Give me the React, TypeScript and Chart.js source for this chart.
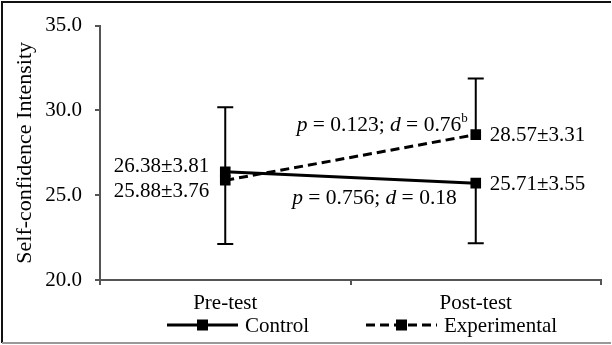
import React, { useEffect, useRef } from "react";
import { Chart, registerables } from "chart.js";

Chart.register(...registerables);

const categories = ["Pre-test", "Post-test"];
const seriesNames = ["Control", "Experimental"];
const controlMeans = [26.38, 25.71];
const controlSD = [3.81, 3.55];
const experimentalMeans = [25.88, 28.57];
const experimentalSD = [3.76, 3.31];
// which side of the mean each error bar is drawn on (1 = up, -1 = down)
const controlErrorSide = [1, -1];
const experimentalErrorSide = [-1, 1];
const yMin = 20;
const yMax = 35;
const yStep = 5;
const yTitle = "Self-confidence Intensity";
// p / d statistics: index 0 = Control, 1 = Experimental
const pValues = ["0.756", "0.123"];
const dValues = ["0.18", "0.76"];
const dSuperscripts = ["", "b"];

const FONT = '"Liberation Serif", "Times New Roman", serif';
const AXIS_COLOR = "#555555";

function font(size: number, style = "normal") {
  return `${style} ${size}px ${FONT}`;
}

const overlayPlugin = {
  id: "overlay",
  beforeDatasetsDraw(chart: any) {
    const ctx = chart.ctx;
    const x = chart.scales.x;
    const y = chart.scales.y;
    ctx.save();
    ctx.strokeStyle = "#000";
    ctx.lineWidth = 2;
    const series = [
      { m: controlMeans, sd: controlSD, side: controlErrorSide },
      { m: experimentalMeans, sd: experimentalSD, side: experimentalErrorSide },
    ];
    series.forEach((s) => {
      s.m.forEach((v, i) => {
        const px = x.getPixelForValue(i);
        const y0 = y.getPixelForValue(v);
        const y1 = y.getPixelForValue(v + s.side[i] * s.sd[i]);
        ctx.beginPath();
        ctx.moveTo(px, y0);
        ctx.lineTo(px, y1);
        ctx.moveTo(px - 8, y1);
        ctx.lineTo(px + 8, y1);
        ctx.stroke();
      });
    });
    ctx.restore();
  },
  afterDraw(chart: any) {
    const ctx = chart.ctx;
    const x = chart.scales.x;
    const y = chart.scales.y;
    ctx.save();
    ctx.fillStyle = "#000";
    ctx.textBaseline = "middle";
    ctx.font = font(21);

    const preX = x.getPixelForValue(0);
    const postX = x.getPixelForValue(1);
    const fmt = (m: number, sd: number) => `${m.toFixed(2)}±${sd.toFixed(2)}`;

    // value labels
    ctx.textAlign = "right";
    ctx.fillText(fmt(controlMeans[0], controlSD[0]), preX - 16, y.getPixelForValue(controlMeans[0]) - 5);
    ctx.fillText(fmt(experimentalMeans[0], experimentalSD[0]), preX - 16, y.getPixelForValue(experimentalMeans[0]) + 11);
    ctx.textAlign = "left";
    ctx.fillText(fmt(experimentalMeans[1], experimentalSD[1]), postX + 14, y.getPixelForValue(experimentalMeans[1]) + 1);
    ctx.fillText(fmt(controlMeans[1], controlSD[1]), postX + 14, y.getPixelForValue(controlMeans[1]) + 1.5);

    // p / d annotations (rich text, right aligned)
    const fs = 21.5;
    const drawRich = (i: number, rightX: number, cy: number) => {
      const segs: { t: string; f: string; dy: number }[] = [
        { t: "p", f: font(fs, "italic"), dy: 0 },
        { t: ` = ${pValues[i]}; `, f: font(fs), dy: 0 },
        { t: "d", f: font(fs, "italic"), dy: 0 },
        { t: ` = ${dValues[i]}`, f: font(fs), dy: 0 },
      ];
      if (dSuperscripts[i]) segs.push({ t: dSuperscripts[i], f: font(13), dy: -7 });
      let total = 0;
      segs.forEach((s) => {
        ctx.font = s.f;
        total += ctx.measureText(s.t).width;
      });
      let cx = rightX - total;
      ctx.textAlign = "left";
      segs.forEach((s) => {
        ctx.font = s.f;
        ctx.fillText(s.t, cx, cy + s.dy);
        cx += ctx.measureText(s.t).width;
      });
    };
    drawRich(1, postX - 8, y.getPixelForValue(experimentalMeans[1]) - 9);
    drawRich(0, postX - 19, y.getPixelForValue(controlMeans[1]) + 15);

    // legend
    const ly = 325;
    const drawLegend = (x0: number, x1: number, dash: number[], label: string) => {
      ctx.save();
      ctx.strokeStyle = "#000";
      ctx.lineWidth = 3;
      ctx.setLineDash(dash);
      ctx.beginPath();
      ctx.moveTo(x0, ly);
      ctx.lineTo(x1, ly);
      ctx.stroke();
      ctx.restore();
      const mx = (x0 + x1) / 2;
      ctx.fillRect(mx - 5.5, ly - 5.5, 11, 11);
      ctx.font = font(21);
      ctx.textAlign = "left";
      ctx.fillText(label, x1 + 7, ly + 1);
    };
    drawLegend(167, 238, [], seriesNames[0]);
    drawLegend(366, 437, [9, 5], seriesNames[1]);

    // outer frame
    ctx.strokeStyle = "#111";
    ctx.lineWidth = 2;
    ctx.beginPath();
    ctx.moveTo(2, 343);
    ctx.lineTo(2, 2);
    ctx.lineTo(611, 2);
    ctx.stroke();
    ctx.strokeStyle = "#999";
    ctx.beginPath();
    ctx.moveTo(2, 343);
    ctx.lineTo(611, 343);
    ctx.stroke();
    ctx.restore();
  },
};

export default function App() {
  const ref = useRef<HTMLCanvasElement>(null);
  useEffect(() => {
    if (!ref.current) return;
    const chart = new Chart(ref.current, {
      type: "line",
      data: {
        labels: categories,
        datasets: [
          {
            label: seriesNames[0],
            data: controlMeans,
            borderColor: "#000",
            backgroundColor: "#000",
            borderWidth: 3,
            pointStyle: "rect",
            pointRadius: 7.5,
            pointBorderWidth: 0,
          },
          {
            label: seriesNames[1],
            data: experimentalMeans,
            borderColor: "#000",
            backgroundColor: "#000",
            borderWidth: 3,
            borderDash: [9, 5],
            pointStyle: "rect",
            pointRadius: 7.5,
            pointBorderWidth: 0,
          },
        ],
      },
      options: {
        responsive: false,
        animation: false,
        devicePixelRatio: 1,
        layout: { padding: { left: 0, right: 11, top: 24, bottom: 35 } },
        plugins: { legend: { display: false }, tooltip: { enabled: false } },
        scales: {
          x: {
            type: "category",
            offset: true,
            grid: {
              offset: true,
              drawOnChartArea: false,
              drawTicks: true,
              tickLength: 5,
              color: AXIS_COLOR,
              lineWidth: 2,
            },
            border: { display: true, color: AXIS_COLOR, width: 2 },
            ticks: { color: "#000", font: { family: FONT, size: 21 }, padding: 6, maxRotation: 0 },
            afterFit: (s: any) => {
              s.height = 30;
            },
          },
          y: {
            min: yMin,
            max: yMax,
            ticks: {
              stepSize: yStep,
              color: "#000",
              font: { family: FONT, size: 21 },
              padding: 13,
              callback: (v: any) => Number(v).toFixed(1),
            },
            grid: {
              drawOnChartArea: false,
              drawTicks: true,
              tickLength: 5,
              color: AXIS_COLOR,
              lineWidth: 2,
            },
            border: { display: true, color: AXIS_COLOR, width: 2 },
            title: {
              display: true,
              text: yTitle,
              color: "#000",
              font: { family: FONT, size: 22 },
              padding: { top: 12, bottom: 0 },
            },
            afterFit: (s: any) => {
              s.width = 100;
            },
          },
        },
      },
      plugins: [overlayPlugin],
    });
    return () => chart.destroy();
  }, []);
  return (
    <div style={{ position: "absolute", left: 0, top: 0, width: 612, height: 345, background: "#fff" }}>
      <canvas ref={ref} width={612} height={345} style={{ display: "block" }} />
    </div>
  );
}
